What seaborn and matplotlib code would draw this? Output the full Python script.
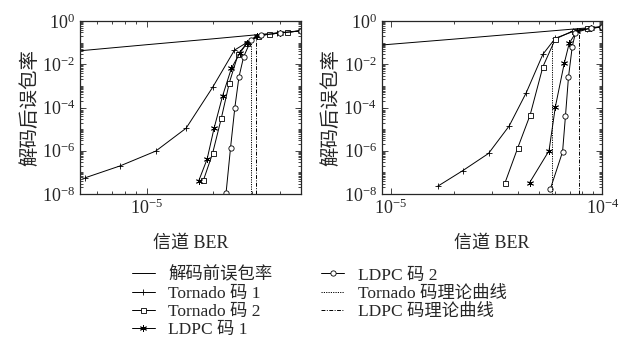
import numpy as np
import pandas as pd
import seaborn as sns
import matplotlib
matplotlib.use("Agg")
import matplotlib.pyplot as plt
from matplotlib.ticker import LogLocator, NullFormatter

sns.set_style("ticks")
plt.rcParams['font.family'] = ['Liberation Serif', 'Noto Sans CJK SC']
plt.rcParams['mathtext.fontset'] = 'cm'

# ---- left panel data ----
l_pre_x = [5e-6, 1e-5, 2e-5, 3e-5, 5e-5]
l_pre_y = [0.042, 0.08, 0.15, 0.22, 0.355]
l_t1_x = [5.27e-6, 7.6e-6, 1.1e-5, 1.51e-5, 1.99e-5, 2.5e-5, 2.84e-5, 3.17e-5, 3.9e-5, 5e-5]
l_t1_y = [5.6e-8, 2.0e-7, 9.6e-7, 1.1e-5, 8.5e-4, 4.5e-2, 0.1, 0.21, 0.27, 0.35]
l_t2_x = [1.81e-5, 1.99e-5, 2.18e-5, 2.37e-5, 2.6e-5, 2.86e-5, 3.2e-5, 3.6e-5, 4.3e-5]
l_t2_y = [4.4e-8, 7.5e-7, 3.2e-5, 1.4e-3, 3.0e-2, 0.1, 0.21, 0.25, 0.30]
l_l1_x = [1.72e-5, 1.88e-5, 2.02e-5, 2.21e-5, 2.42e-5, 2.64e-5, 2.86e-5, 3.17e-5, 4.0e-5, 5e-5]
l_l1_y = [3.9e-8, 4.1e-7, 1.07e-5, 3.5e-4, 6.4e-3, 3.2e-2, 0.1, 0.21, 0.28, 0.35]
l_l2_x = [2.29e-5, 2.4e-5, 2.51e-5, 2.62e-5, 2.75e-5, 2.97e-5, 3.3e-5, 4.0e-5, 5e-5]
l_l2_y = [1.1e-8, 1.4e-6, 1e-4, 2.6e-3, 2.2e-2, 0.13, 0.22, 0.28, 0.35]
l_th_t_x = [2.97e-5, 2.97e-5]
l_th_t_y = [1e-8, 0.1]
l_th_l_x = [3.13e-5, 3.13e-5]
l_th_l_y = [1e-8, 0.2]

# ---- right panel data ----
r_pre_x = [9e-6, 1e-5, 2e-5, 5e-5, 1e-4]
r_pre_y = [0.077, 0.084, 0.146, 0.31, 0.55]
r_t1_x = [1.67e-5, 2.19e-5, 2.9e-5, 3.63e-5, 4.37e-5, 5.24e-5, 6.0e-5, 7.3e-5, 8.5e-5, 1e-4]
r_t1_y = [2.3e-8, 1.2e-7, 7.5e-7, 1.4e-5, 4.8e-4, 2.9e-2, 0.16, 0.33, 0.44, 0.53]
r_t2_x = [3.47e-5, 3.99e-5, 4.56e-5, 5.24e-5, 6.0e-5, 7.32e-5, 8.5e-5, 1e-4]
r_t2_y = [3.3e-8, 1.4e-6, 4.5e-5, 7.7e-3, 0.147, 0.36, 0.46, 0.53]
r_l1_x = [4.53e-5, 5.6e-5, 6.0e-5, 6.61e-5, 6.98e-5, 7.6e-5, 8.8e-5, 1e-4]
r_l1_y = [3.3e-8, 1e-6, 1.07e-4, 1.1e-2, 9.5e-2, 0.35, 0.47, 0.53]
r_l2_x = [5.68e-5, 6.49e-5, 6.7e-5, 6.92e-5, 7.21e-5, 7.47e-5, 8.8e-5, 1e-4]
r_l2_y = [1.7e-8, 8.9e-7, 4.2e-5, 2.5e-3, 6.5e-2, 0.29, 0.47, 0.53]
r_th_t_x = [5.8e-5, 5.8e-5]
r_th_t_y = [1e-8, 0.12]
r_th_l_x = [7.73e-5, 7.73e-5]
r_th_l_y = [1e-8, 0.3]

labels = ['解码前误包率', 'Tornado 码 1', 'Tornado 码 2', 'LDPC 码 1',
          'LDPC 码 2', 'Tornado 码理论曲线', 'LDPC 码理论曲线']

styles = [
    dict(linestyle='-'),
    dict(marker='+', markersize=5),
    dict(marker='s', markersize=3.6, markerfacecolor='white'),
    dict(marker=(6, 2, 0), markersize=5),
    dict(marker='o', markersize=3.8, markerfacecolor='white'),
    dict(linestyle=(0, (1.2, 1.2))),
    dict(linestyle=(0, (4, 1.5, 1, 1.5))),
]

left = [(l_pre_x, l_pre_y), (l_t1_x, l_t1_y), (l_t2_x, l_t2_y), (l_l1_x, l_l1_y),
        (l_l2_x, l_l2_y), (l_th_t_x, l_th_t_y), (l_th_l_x, l_th_l_y)]
right = [(r_pre_x, r_pre_y), (r_t1_x, r_t1_y), (r_t2_x, r_t2_y), (r_l1_x, r_l1_y),
         (r_l2_x, r_l2_y), (r_th_t_x, r_th_t_y), (r_th_l_x, r_th_l_y)]

fig = plt.figure(figsize=(6.27, 3.43), dpi=100)
ax1 = fig.add_axes([80 / 627, 1 - 194 / 343, 221 / 627, 173 / 343])
ax2 = fig.add_axes([381.7 / 627, 1 - 194 / 343, 220.6 / 627, 173 / 343])


def draw(ax, series, xlim):
    for (x, y), lab, st in zip(series, labels, styles):
        df = pd.DataFrame({'x': x, 'y': y})
        sns.lineplot(data=df, x='x', y='y', ax=ax, color='k', linewidth=0.7,
                     estimator=None, sort=False, label=lab,
                     markeredgecolor='k', markeredgewidth=0.6, **st)
    ax.set_xscale('log')
    ax.set_yscale('log')
    ax.set_xlim(*xlim)
    ax.set_ylim(1e-8, 1)
    ax.set_yticks([1e-8, 1e-6, 1e-4, 1e-2, 1e0])
    ax.yaxis.set_minor_locator(LogLocator(base=10, subs=np.arange(1, 10), numticks=20))
    ax.yaxis.set_minor_formatter(NullFormatter())
    ax.xaxis.set_major_locator(LogLocator(base=10, numticks=10))
    ax.xaxis.set_minor_locator(LogLocator(base=10, subs=np.arange(2, 10), numticks=10))
    ax.xaxis.set_minor_formatter(NullFormatter())
    ax.tick_params(which='both', direction='in', top=True, right=True,
                   labelsize=13, width=0.6)
    ax.tick_params(which='major', length=4)
    ax.tick_params(which='minor', length=2)
    for sp in ax.spines.values():
        sp.set_linewidth(0.9)
    ax.set_xlabel('信道 BER', fontsize=13, labelpad=12)
    ax.set_ylabel('解码后误包率', fontsize=14, labelpad=2)
    ax.get_legend().remove()


draw(ax1, left, (5e-6, 5e-5))
draw(ax2, right, (9.07e-6, 1e-4))

handles, labs = ax1.get_legend_handles_labels()
fig.legend(handles, labs, ncol=2, frameon=False, fontsize=12.5,
           loc='upper left', bbox_to_anchor=(125 / 627, 1 - 260 / 343),
           handlelength=1.3, handletextpad=0.8, columnspacing=2.8,
           labelspacing=0.12, borderaxespad=0, numpoints=1)

fig.savefig('out.png', dpi=100)
